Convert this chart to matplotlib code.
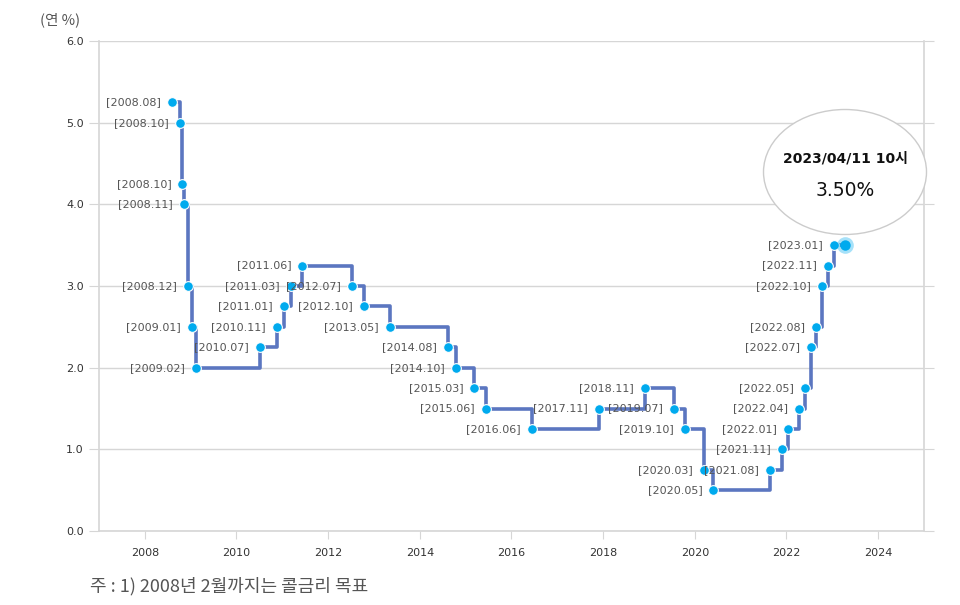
import numpy as np
import pandas as pd
import matplotlib
matplotlib.use("Agg")
import matplotlib.pyplot as plt
from matplotlib.patches import Ellipse

plt.rcParams['font.family'] = ['DejaVu Sans', 'Noto Sans CJK KR']

# Bank of Korea base rate decisions
dates = ["2008-08-07", "2008-10-09", "2008-10-27", "2008-11-07", "2008-12-11",
         "2009-01-09", "2009-02-12", "2010-07-09", "2010-11-16", "2011-01-13",
         "2011-03-10", "2011-06-10", "2012-07-12", "2012-10-11", "2013-05-09",
         "2014-08-14", "2014-10-15", "2015-03-12", "2015-06-11", "2016-06-09",
         "2017-11-30", "2018-11-30", "2019-07-18", "2019-10-16", "2020-03-16",
         "2020-05-28", "2021-08-26", "2021-11-25", "2022-01-14", "2022-04-14",
         "2022-05-26", "2022-07-13", "2022-08-25", "2022-10-12", "2022-11-24",
         "2023-01-13"]
rates = [5.25, 5.00, 4.25, 4.00, 3.00, 2.50, 2.00, 2.25, 2.50, 2.75,
         3.00, 3.25, 3.00, 2.75, 2.50, 2.25, 2.00, 1.75, 1.50, 1.25,
         1.50, 1.75, 1.50, 1.25, 0.75, 0.50, 0.75, 1.00, 1.25, 1.50,
         1.75, 2.25, 2.50, 3.00, 3.25, 3.50]

current_date = "2023-04-11"
current_rate = 3.50
tooltip_title = "2023/04/11 10시"
tooltip_value = "3.50%"

year_ticks = [2008, 2010, 2012, 2014, 2016, 2018, 2020, 2022, 2024]
rate_ticks = [0.0, 1.0, 2.0, 3.0, 4.0, 5.0, 6.0]


def to_year(s):
    d = pd.Timestamp(s)
    start = pd.Timestamp(year=d.year, month=1, day=1)
    end = pd.Timestamp(year=d.year + 1, month=1, day=1)
    return d.year + (d - start) / (end - start)


xs = np.array([to_year(d) for d in dates])
labels = ["[" + d[:7].replace("-", ".") + "]" for d in dates]
cur_x = to_year(current_date)

line_color = "#5b76c0"
dot_color = "#00aaee"
grid_color = "#d6d6d6"

fig = plt.figure(figsize=(9.6, 6.05), dpi=100)
ax = fig.add_axes([99 / 960, 1 - 531 / 605, (924 - 99) / 960, (531 - 41) / 605])

# step line, extended to today
ax.step(list(xs) + [cur_x], rates + [current_rate], where="post",
        color=line_color, linewidth=2.6, zorder=3)
ax.plot(xs, rates, "o", color=dot_color, markersize=7,
        markeredgecolor="white", markeredgewidth=0.8, zorder=4)

for x, y, lab in zip(xs, rates, labels):
    ax.annotate(lab, (x, y), xytext=(-8, 0), textcoords="offset points",
                ha="right", va="center", fontsize=8, color="#555555", zorder=5)

# highlighted current point
ax.plot([cur_x], [current_rate], "o", color=dot_color, alpha=0.35,
        markersize=12, markeredgewidth=0, zorder=4)
ax.plot([cur_x], [current_rate], "o", color=dot_color, markersize=7.5,
        markeredgewidth=0, zorder=5)

ax.set_xlim(2007, 2025)
ax.set_ylim(0, 6)
ax.set_xticks(year_ticks)
ax.set_yticks(rate_ticks)
ax.set_yticklabels([f"{v:.1f}" for v in rate_ticks])
ax.yaxis.grid(True, color=grid_color, linewidth=1)
ax.set_axisbelow(True)

for side in ["left", "right", "bottom"]:
    ax.spines[side].set_color(grid_color)
    ax.spines[side].set_linewidth(1.2)
ax.spines["top"].set_visible(False)

ax.tick_params(axis="y", which="both", left=True, right=True, length=7,
               color=grid_color, labelsize=8, labelcolor="#333333", pad=4)
ax.tick_params(axis="x", length=6, color=grid_color, labelsize=8,
               labelcolor="#333333", pad=6)

# tooltip bubble
bubble = Ellipse((845, 605 - 172), 163, 125, transform=None,
                 facecolor="white", edgecolor="#cccccc", linewidth=1, zorder=6)
fig.patches.append(bubble)
fig.text(845 / 960, 1 - 158 / 605, tooltip_title, ha="center", va="center",
         fontsize=10, fontweight="bold", color="#111111", zorder=7,
         family=["DejaVu Sans", "Noto Sans CJK KR"])
fig.text(845 / 960, 1 - 190 / 605, tooltip_value, ha="center", va="center",
         fontsize=13.5, color="#111111", zorder=7)

fig.text(40 / 960, 1 - 20 / 605, "(연 %)", ha="left", va="center",
         fontsize=10.5, color="#555555", family=["Noto Sans CJK KR", "DejaVu Sans"])
fig.text(90 / 960, 1 - 586 / 605, "주 : 1) 2008년 2월까지는 콜금리 목표",
         ha="left", va="center", fontsize=13, color="#555555",
         family=["Noto Sans CJK KR", "DejaVu Sans"])

fig.savefig("out.png", dpi=100)
